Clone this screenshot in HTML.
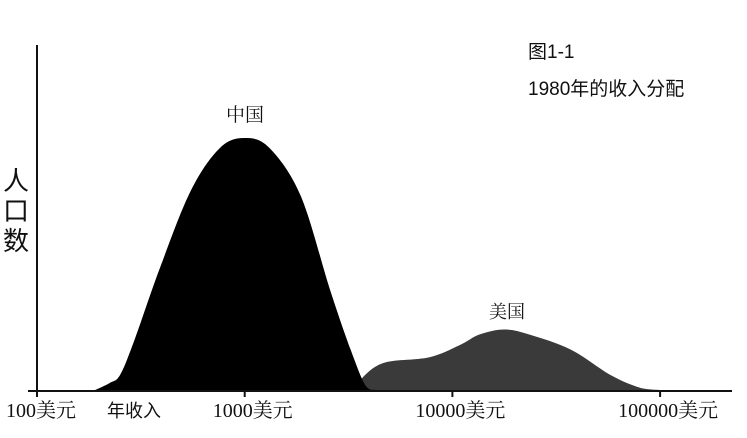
<!DOCTYPE html>
<html><head><meta charset="utf-8"><style>
body{margin:0;background:#fff;}
svg{display:block;}
text{font-family:"Liberation Serif","Noto Serif CJK SC",serif;fill:#111;}
.sans{font-family:"Liberation Sans","Noto Sans CJK SC",sans-serif;}
</style></head><body>
<svg id="chart" width="747" height="438" viewBox="0 0 747 438">
<line x1="37" y1="45" x2="37" y2="392" stroke="#111" stroke-width="2"/>
<line x1="28" y1="391" x2="732" y2="391" stroke="#111" stroke-width="2"/>
<g id="curves"></g>
<g id="ticks"></g>
<text x="107" y="417" font-size="18" class="sans">年收入</text>
<g>
<text x="3" y="190" font-size="26" class="sans">人</text>
<text x="3" y="220" font-size="26" class="sans">口</text>
<text x="3" y="250" font-size="26" class="sans">数</text>
</g>
<text x="245" y="121" font-size="19" text-anchor="middle">中国</text>
<text x="507" y="318" font-size="18" text-anchor="middle">美国</text>
<text x="528" y="58" font-size="19" class="sans">图1-1</text>
<text x="528" y="95" font-size="19" class="sans">1980年的收入分配</text>
</svg>
<script>
const tickValues=[100,1000,10000,100000];
const tickLabels=["100美元","1000美元","10000美元","100000美元"];
const chinaLogIncome=[2.28,2.35,2.40,2.47,2.59,2.74,2.88,3.0,3.12,3.27,3.41,3.51,3.58,3.63];
const chinaPop=[0,2.8,6,20,48,79,96,100,96,77,40,16,2,0];
const usaLogIncome=[3.53,3.58,3.68,3.89,4.04,4.13,4.25,4.37,4.57,4.76,4.90,5.0];
const usaPop=[0,6,11,13,18,22,24,22,16,6,1,0];

const x=l=>37+207.7*(l-2);
const y=v=>390-v*2.52;
const NS="http://www.w3.org/2000/svg";
function path(xs,ys){
  const p=xs.map((l,i)=>[x(l),y(ys[i])]);
  let d="M"+p[0][0]+","+p[0][1];
  for(let i=0;i<p.length-1;i++){
    const p0=p[i-1]||p[i],p1=p[i],p2=p[i+1],p3=p[i+2]||p2;
    const c1=[p1[0]+(p2[0]-p0[0])/6,p1[1]+(p2[1]-p0[1])/6];
    const c2=[p2[0]-(p3[0]-p1[0])/6,p2[1]-(p3[1]-p1[1])/6];
    d+=" C"+c1+" "+c2+" "+p2;
  }
  return d+" Z";
}
const g=document.getElementById("curves");
const us=document.createElementNS(NS,"path");
us.setAttribute("d",path(usaLogIncome,usaPop));
us.setAttribute("fill","#3a3a3a");


g.appendChild(us);
const cn=document.createElementNS(NS,"path");
cn.setAttribute("d",path(chinaLogIncome,chinaPop));
cn.setAttribute("fill","#000");


g.appendChild(cn);
const t=document.getElementById("ticks");
tickValues.forEach((v,i)=>{
  const xx=x(Math.log10(v));
  const ln=document.createElementNS(NS,"line");
  ln.setAttribute("x1",xx);ln.setAttribute("x2",xx);
  ln.setAttribute("y1",391);ln.setAttribute("y2",397);
  ln.setAttribute("stroke","#111");ln.setAttribute("stroke-width","2");
  
  
  t.appendChild(ln);
  const tx=document.createElementNS(NS,"text");
  tx.setAttribute("x",i==0?xx-31:xx+8);
  tx.setAttribute("y",417);
  tx.setAttribute("font-size","20");
  tx.setAttribute("text-anchor",i==0?"start":"middle");
  tx.textContent=tickLabels[i];
  
  
  t.appendChild(tx);
});
</script>
</body></html>
